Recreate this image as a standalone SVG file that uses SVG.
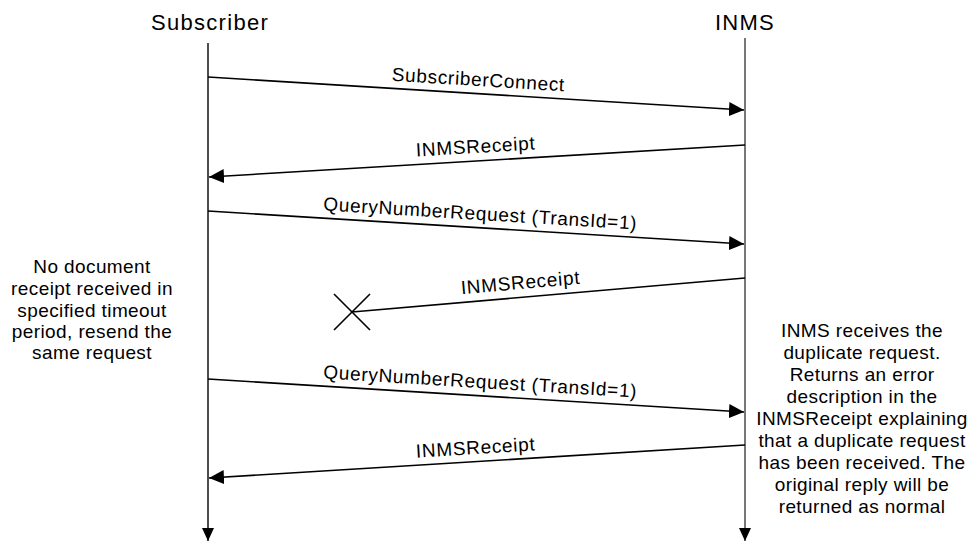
<svg xmlns="http://www.w3.org/2000/svg" width="976" height="543" viewBox="0 0 976 543">
<style>
text{font-family:"Liberation Sans",Arial,sans-serif;fill:#000}
.title{font-size:22px;letter-spacing:1.3px;text-anchor:middle}
.lbl{font-size:19px;letter-spacing:0.7px;text-anchor:middle}
.note{font-size:19px;letter-spacing:0.4px;text-anchor:middle}
.msg{stroke:#000;stroke-width:1.6;fill:none;marker-end:url(#ah)}
</style>
<defs>
<marker id="ah" markerWidth="16" markerHeight="14" refX="15" refY="7" orient="auto" markerUnits="userSpaceOnUse">
<path d="M0,0 L15,7 L0,14 Z" fill="#000"/>
</marker>
<marker id="ahd" markerWidth="14" markerHeight="16" refX="13" refY="8" orient="auto" markerUnits="userSpaceOnUse">
<path d="M0,2 L13,8 L0,14 Z" fill="#000"/>
</marker>
</defs>
<g id="subscriber">
<text class="title" x="210" y="30">Subscriber</text>
<line x1="208" y1="43" x2="208" y2="541" stroke="#000" stroke-width="1.4" marker-end="url(#ahd)"/>
</g>
<g id="inms">
<text class="title" x="745" y="30">INMS</text>
<line x1="745" y1="38" x2="745" y2="541" stroke="#555" stroke-width="1.6" marker-end="url(#ahd)"/>
</g>
<g id="connectors">
<line class="msg" x1="208" y1="77" x2="744" y2="110"/>
<line class="msg" x1="745" y1="145" x2="209" y2="177"/>
<line class="msg" x1="208" y1="211" x2="744" y2="244"/>
<line x1="745" y1="278" x2="352" y2="312" stroke="#000" stroke-width="1.6"/>
<line class="msg" x1="208" y1="379" x2="744" y2="412"/>
<line class="msg" x1="745" y1="445" x2="209" y2="478"/>
</g>
<g id="lost-marker">
<path d="M334,294 L370,330 M370,294 L334,330" stroke="#000" stroke-width="1.6" fill="none"/>
</g>
<g id="labels">
<text class="lbl" x="478" y="86" transform="rotate(3.52 478 86)">SubscriberConnect</text>
<text class="lbl" x="476" y="153" transform="rotate(-3.42 476 153)">INMSReceipt</text>
<text class="lbl" x="480" y="220" transform="rotate(3.52 480 220)">QueryNumberRequest (TransId=1)</text>
<text class="lbl" x="521" y="289" transform="rotate(-4.94 521 289)">INMSReceipt</text>
<text class="lbl" x="480" y="388" transform="rotate(3.52 480 388)">QueryNumberRequest (TransId=1)</text>
<text class="lbl" x="476" y="454" transform="rotate(-3.52 476 454)">INMSReceipt</text>
</g>
<g id="note-left">
<text class="note" x="92" y="273">No document</text>
<text class="note" x="92" y="295">receipt received in</text>
<text class="note" x="92" y="317">specified timeout</text>
<text class="note" x="92" y="338">period, resend the</text>
<text class="note" x="92" y="359">same request</text>
</g>
<g id="note-right">
<text class="note" x="862" y="337">INMS receives the</text>
<text class="note" x="862" y="359">duplicate request.</text>
<text class="note" x="862" y="381">Returns an error</text>
<text class="note" x="862" y="403">description in the</text>
<text class="note" x="862" y="425">INMSReceipt explaining</text>
<text class="note" x="862" y="447">that a duplicate request</text>
<text class="note" x="862" y="469">has been received. The</text>
<text class="note" x="862" y="491">original reply will be</text>
<text class="note" x="862" y="513">returned as normal</text>
</g>
</svg>
